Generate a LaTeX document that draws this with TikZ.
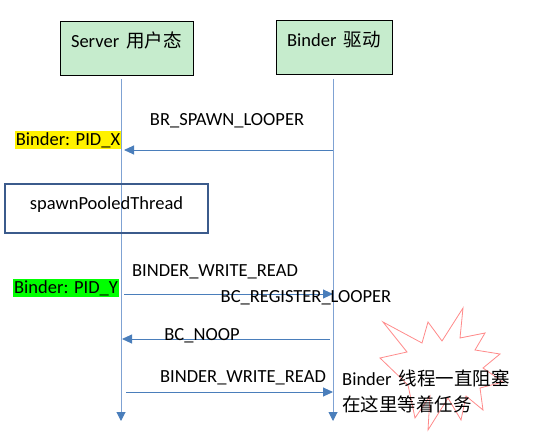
\documentclass[tikz,border=0pt]{standalone}
\usepackage{fontspec}
\setmainfont{Carlito}
\newfontfamily\cjk{Noto Sans CJK SC}
\usetikzlibrary{arrows.meta}
\definecolor{boxgreen}{HTML}{C6ECCD}
\definecolor{lifeblue}{HTML}{7FA2D3}
\definecolor{msgblue}{HTML}{4A7EBB}
\definecolor{spawnblue}{HTML}{3B5B8C}
\definecolor{starred}{HTML}{FF8A8A}
\begin{document}
\begin{tikzpicture}[x=1pt,y=-1pt,
  every node/.style={font=\fontsize{18.5}{26}\selectfont},
  actor/.style={draw=black, fill=boxgreen, minimum width=133pt, minimum height=54pt, text depth=16pt},
  life/.style={draw=lifeblue, line width=1pt, -{Triangle[length=9pt,width=9pt,color=msgblue]}},
  msg/.style={draw=msgblue, line width=0.9pt, -{Triangle[length=10pt,width=9pt]}},
  tag/.style={inner xsep=1pt, inner ysep=1pt}]
  \useasboundingbox (0,0) rectangle (534,438);
  % Participants
  \node[actor] (srv) at (126.5,48) {Server\, {\cjk 用户态}};
  \node[actor, minimum width=116pt] (drv) at (334,47) {Binder\, {\cjk 驱动}};
  % Blocking burst
  \draw[starred, line width=0.8pt] (383,322) -- (422,343) -- (428,322) -- (442,341)
    -- (463,308) -- (460,338) -- (485,333) -- (475,350) -- (500,354) -- (483,368)
    -- (503,382) -- (480,388) -- (483,410) -- (466,396) -- (461,420) -- (448,398)
    -- (428,430) -- (430,396) -- (415,418) -- (408,385) -- (380,358) -- (407,352) -- cycle;
  % Lifelines
  \coordinate (s0) at (121,79);
  \coordinate (s1) at (121,421);
  \coordinate (d0) at (333,79);
  \coordinate (d1) at (333,421);
  \draw[life] (s0) -- (s1);
  \draw[life] (d0) -- (d1);
  % Spawn request
  \coordinate (m1a) at (333,150);
  \coordinate (m1b) at (124,150);
  \draw[msg] (m1a) -- (m1b);
  \node (spawnmsg) at (227,121) {BR\_SPAWN\_LOOPER};
  \node[tag, fill=yellow] (pidx) at (68,140) {Binder: PID\_X};
  \node[draw=spawnblue, line width=2pt, minimum width=203pt, minimum height=49pt, text depth=10pt] (spawn) at (106.5,208.5) {spawnPooledThread};
  % Register looper
  \coordinate (m2a) at (124,294);
  \coordinate (m2b) at (333,294);
  \draw[msg] (m2a) -- (m2b);
  \node (wr1) at (215,272) {BINDER\_WRITE\_READ};
  \node[tag, fill=green] (pidy) at (66,288) {Binder: PID\_Y};
  \node (reg) at (306,298) {BC\_REGISTER\_LOOPER};
  % Noop reply
  \coordinate (m3a) at (330,339);
  \coordinate (m3b) at (122,339);
  \draw[msg] (m3a) -- (m3b);
  \node (noop) at (202,336) {BC\_NOOP};
  % Read and block
  \coordinate (m4a) at (126,392);
  \coordinate (m4b) at (333,392);
  \draw[msg] (m4a) -- (m4b);
  \node (wr2) at (243,378) {BINDER\_WRITE\_READ};
  \node[anchor=west, align=left, inner sep=1pt] (note) at (341,391) {Binder\, {\cjk 线程一直阻塞}\\{\cjk 在这里等着任务}};
\end{tikzpicture}
\end{document}
